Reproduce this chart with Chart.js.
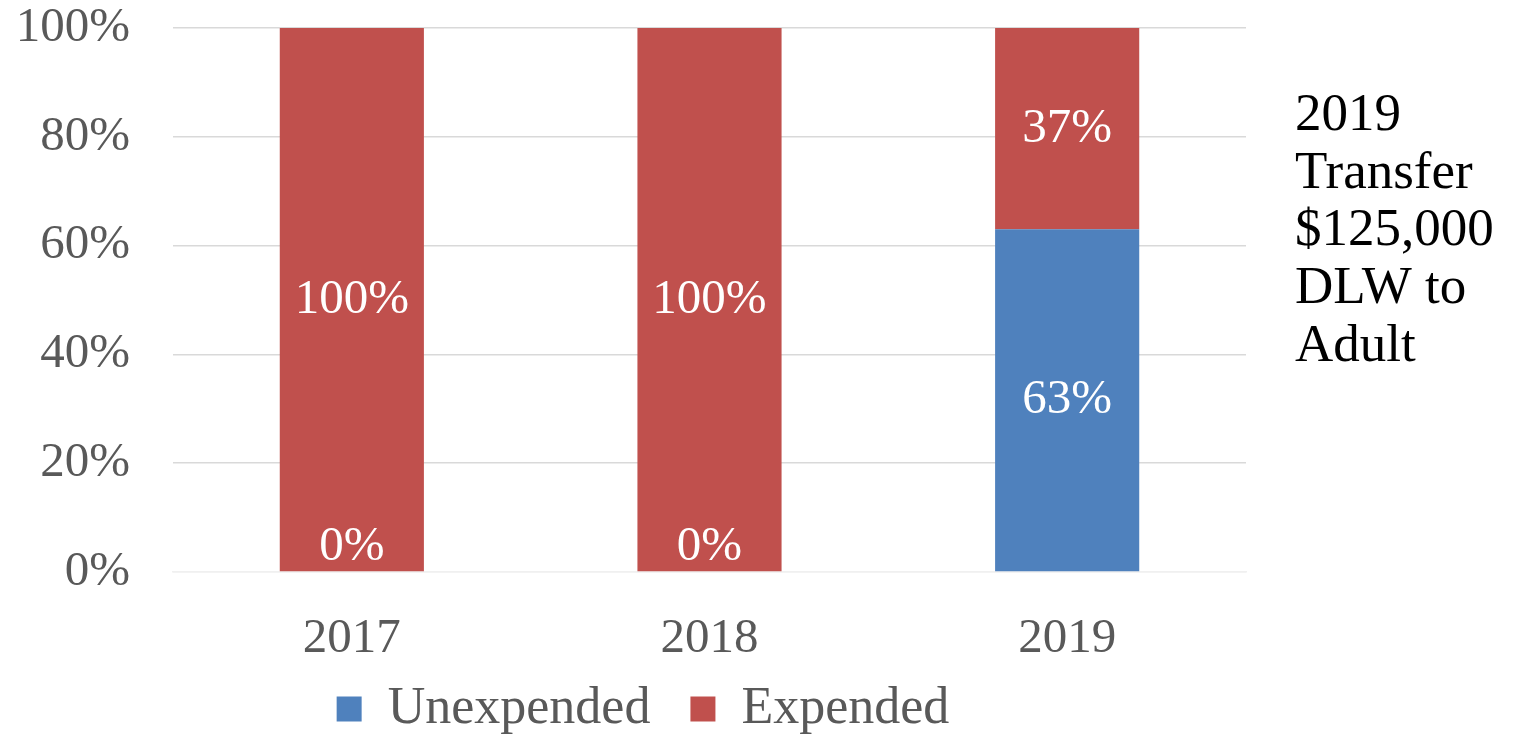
<!DOCTYPE html>
<html><head><meta charset="utf-8">
<script src="https://cdn.jsdelivr.net/npm/chart.js@4.4.0/dist/chart.umd.min.js"></script>
<style>html,body{margin:0;padding:0;background:#fff;overflow:hidden}</style>
</head><body>
<canvas id="c" width="1514" height="734"></canvas>
<script>
const categories = ['2017', '2018', '2019'];
const unexpended = [0, 0, 63];
const expended = [100, 100, 37];
const seriesNames = ['Unexpended', 'Expended'];
const seriesColors = ['#4F81BD', '#C0504D'];
const yTicks = [0, 20, 40, 60, 80, 100];
const noteLines = ['2019', 'Transfer', '$125,000', 'DLW to', 'Adult'];

const FAMILY = "'Liberation Serif', serif";
const LEGEND_PAD = 40;
const LEGEND_FONT = 52;

const barLabels = {
  id: 'barLabels',
  afterDatasetsDraw(chart) {
    const ctx = chart.ctx;
    ctx.save();
    ctx.font = "49px " + FAMILY;
    ctx.fillStyle = '#ffffff';
    ctx.textAlign = 'center';
    ctx.textBaseline = 'middle';
    chart.data.datasets.forEach((ds, i) => {
      const meta = chart.getDatasetMeta(i);
      meta.data.forEach((el, j) => {
        const v = ds.data[j];
        const y = v === 0 ? el.base - 25 : (el.y + el.base) / 2;
        ctx.fillText(v + '%', el.x, y);
      });
    });
    ctx.restore();
  }
};

const sideNote = {
  id: 'sideNote',
  afterDraw(chart) {
    const ctx = chart.ctx;
    const a = chart.chartArea;
    ctx.save();
    ctx.font = "53px " + FAMILY;
    ctx.fillStyle = '#000000';
    ctx.textAlign = 'left';
    ctx.textBaseline = 'middle';
    noteLines.forEach((t, i) => {
      ctx.fillText(t, a.right + 49, a.top + 88 + i * 57.7);
    });
    ctx.restore();
  }
};

const legendShift = {
  id: 'legendShift',
  afterLayout(chart) {
    const l = chart.legend;
    const a = chart.chartArea;
    const targetCenter = a.bottom + 137;
    const dy = targetCenter - (l.top + LEGEND_PAD + LEGEND_FONT / 2);
    l.top += dy;
    l.bottom = chart.height;
    l.left += 20; l.right += 20;
  }
};

new Chart(document.getElementById('c'), {
  type: 'bar',
  data: {
    labels: categories,
    datasets: [
      { label: seriesNames[0], data: unexpended, backgroundColor: seriesColors[0], borderWidth: 0, barPercentage: 1, categoryPercentage: 0.403 },
      { label: seriesNames[1], data: expended, backgroundColor: seriesColors[1], borderWidth: 0, barPercentage: 1, categoryPercentage: 0.403 }
    ]
  },
  options: {
    responsive: false,
    animation: false,
    devicePixelRatio: 1,
    layout: { autoPadding: false, padding: { left: 0, right: 268, top: 28, bottom: 0 } },
    plugins: {
      tooltip: { enabled: false },
      legend: {
        position: 'bottom',
        maxHeight: 62,
        labels: {
          boxWidth: 25, boxHeight: 25, padding: LEGEND_PAD,
          color: '#595959',
          font: { family: FAMILY, size: LEGEND_FONT }
        }
      }
    },
    scales: {
      x: {
        stacked: true,
        grid: { display: false, drawTicks: false },
        border: { display: true, color: '#f0f0f0', width: 1.5 },
        ticks: { color: '#595959', font: { family: FAMILY, size: 49 }, padding: 38 },
        afterFit(s) { s.height = 100; }
      },
      y: {
        stacked: true,
        min: 0, max: 100,
        afterBuildTicks(s) { s.ticks = yTicks.map(v => ({ value: v })); },
        ticks: { color: '#595959', font: { family: FAMILY, size: 49, lineHeight: 1.1 }, padding: 0, callback: v => v + '%' },
        grid: {
          color: c => (c.tick && c.tick.value === 0) ? '#f0f0f0' : '#d9d9d9',
          lineWidth: 1.5, drawTicks: true, tickLength: 43, tickColor: 'rgba(0,0,0,0)'
        },
        border: { display: false },
        afterFit(s) { s.width = 173; }
      }
    }
  },
  plugins: [barLabels, sideNote, legendShift]
});
</script>
</body></html>
